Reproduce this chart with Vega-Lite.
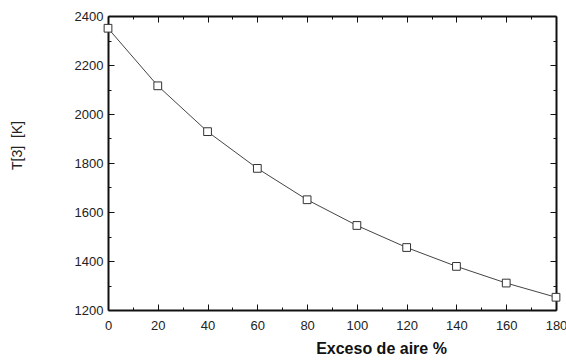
{
  "$schema": "https://vega.github.io/schema/vega-lite/v6.json",
  "autosize": {"type": "none"},
  "padding": {"left": 108, "top": 16, "right": 10, "bottom": 50},
  "width": 448,
  "height": 294,
  "background": "white",
  "config": {
    "view": {"stroke": null},
    "axis": {
      "domainColor": "#111",
      "domainWidth": 2,
      "tickColor": "#111",
      "tickWidth": 1,
      "grid": false,
      "labelFont": "Liberation Sans",
      "labelFontSize": 13,
      "labelColor": "#222",
      "titleFont": "Liberation Sans"
    }
  },
  "data": {
    "values": [
      {"exceso": 0, "T": 2350},
      {"exceso": 20, "T": 2115},
      {"exceso": 40, "T": 1928},
      {"exceso": 60, "T": 1778},
      {"exceso": 80, "T": 1650},
      {"exceso": 100, "T": 1545},
      {"exceso": 120, "T": 1455},
      {"exceso": 140, "T": 1378},
      {"exceso": 160, "T": 1310},
      {"exceso": 180, "T": 1252}
    ]
  },
  "layer": [
    {
      "mark": {"type": "line", "color": "#444", "strokeWidth": 1},
      "encoding": {
        "x": {
          "field": "exceso", "type": "quantitative",
          "scale": {"domain": [0, 180], "nice": false, "zero": false},
          "axis": {
            "orient": "bottom",
            "values": [0,10,20,30,40,50,60,70,80,90,100,110,120,130,140,150,160,170,180],
            "labelExpr": "datum.value % 20 === 0 ? datum.label : ''",
            "tickSize": {"condition": {"test": "datum.value % 20 === 0", "value": -6}, "value": -3},
            "labelPadding": 15,
            "labelFlush": false,
            "labelOverlap": false,
            "title": "Exceso de aire %",
            "titleFontSize": 16,
            "titleFontWeight": "bold",
            "titleColor": "#111",
            "titleX": 273,
            "titleY": 30,
            "titleAlign": "center",
            "titleBaseline": "top"
          }
        },
        "y": {
          "field": "T", "type": "quantitative",
          "scale": {"domain": [1200, 2400], "nice": false, "zero": false},
          "axis": {
            "orient": "left",
            "values": [1200,1300,1400,1500,1600,1700,1800,1900,2000,2100,2200,2300,2400],
            "labelExpr": "datum.value % 200 === 0 ? datum.label : ''",
            "format": "d",
            "tickSize": {"condition": {"test": "datum.value % 200 === 0", "value": -6}, "value": -3},
            "labelPadding": 11,
            "labelFlush": false,
            "labelOverlap": false,
            "title": "T[3]\u00a0\u00a0[K]",
            "titleFontSize": 14,
            "titleFontWeight": "normal",
            "titleColor": "#222",
            "titleX": -91,
            "titleY": 129,
            "titleAngle": 270,
            "titleAlign": "center",
            "titleBaseline": "middle"
          }
        }
      }
    },
    {
      "mark": {"type": "point", "shape": "square", "size": 60, "filled": true, "fill": "white", "stroke": "#333", "strokeWidth": 1, "opacity": 1},
      "encoding": {
        "x": {
          "field": "exceso", "type": "quantitative",
          "axis": {
            "orient": "top",
            "values": [0,10,20,30,40,50,60,70,80,90,100,110,120,130,140,150,160,170,180],
            "labels": false,
            "tickSize": {"condition": {"test": "datum.value % 20 === 0", "value": -6}, "value": -3},
            "title": null
          }
        },
        "y": {
          "field": "T", "type": "quantitative",
          "axis": {
            "orient": "right",
            "values": [1200,1300,1400,1500,1600,1700,1800,1900,2000,2100,2200,2300,2400],
            "labels": false,
            "tickSize": {"condition": {"test": "datum.value % 200 === 0", "value": -6}, "value": -3},
            "title": null
          }
        }
      }
    }
  ],
  "resolve": {"axis": {"x": "independent", "y": "independent"}}
}
